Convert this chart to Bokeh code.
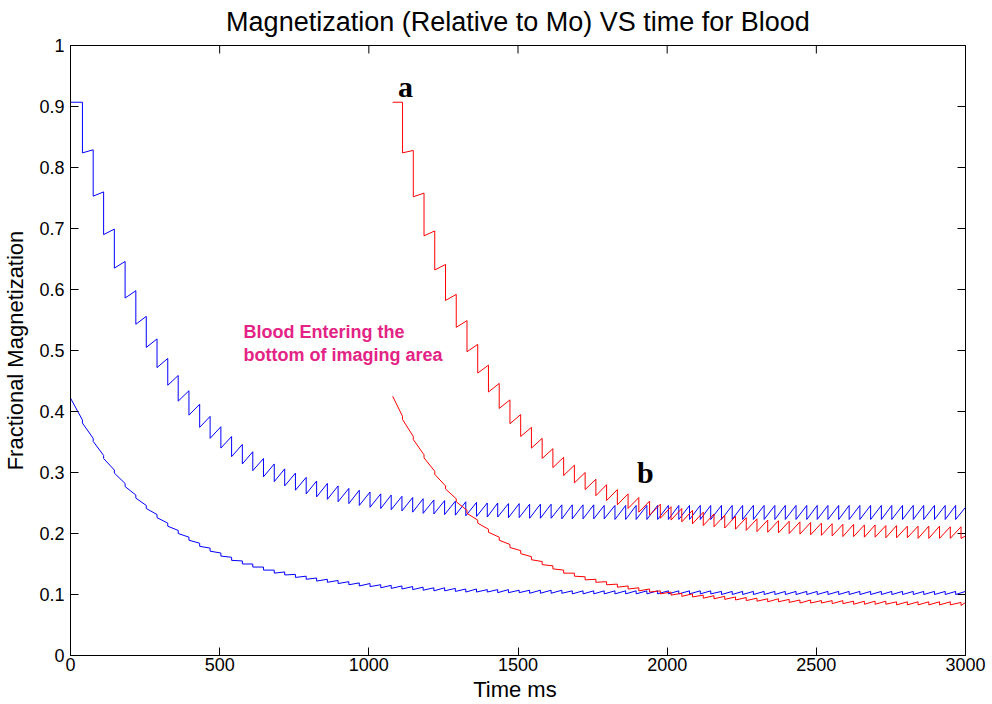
import math
from bokeh.plotting import figure
from bokeh.models import Range1d, FixedTicker, CustomJSTickFormatter, ColumnDataSource, LinearAxis
from bokeh.embed import file_html
from bokeh.resources import INLINE
from bokeh.core.properties import value

# ---------------- data ----------------
x_ticks = [0, 500, 1000, 1500, 2000, 2500, 3000]
y_ticks = [0, 0.1, 0.2, 0.3, 0.4, 0.5, 0.6, 0.7, 0.8, 0.9, 1.0]
x_limits = (0, 3000)
y_limits = (0, 1)

title_text = "Magnetization (Relative to Mo) VS time for Blood"
x_label_text = "Time  ms"
y_label_text = "Fractional Magnetization"

# RF pulse times (ms) for the blood already in the slab (blue) and the later bolus (red)
blue_pulse_t = [40, 76, 111, 147, 183, 219, 254, 290, 326, 361,
                397, 433, 468, 504, 540, 576, 611, 647, 683, 718,
                754, 790, 825, 861, 897, 933, 968, 1004, 1040, 1075,
                1111, 1147, 1182, 1218, 1254, 1290, 1325, 1361, 1397, 1432,
                1468, 1504, 1539, 1575, 1611, 1647, 1682, 1718, 1754, 1789,
                1825, 1861, 1896, 1932, 1968, 2004, 2039, 2075, 2111, 2146,
                2182, 2218, 2253, 2289, 2325, 2361, 2396, 2432, 2468, 2503,
                2539, 2575, 2610, 2646, 2682, 2718, 2753, 2789, 2825, 2860,
                2896, 2932, 2967]

red_pulse_t = [1113, 1149, 1185, 1221, 1257, 1293, 1329, 1365, 1401, 1437,
               1473, 1509, 1545, 1581, 1617, 1653, 1689, 1725, 1761, 1797,
               1833, 1869, 1905, 1941, 1977, 2013, 2049, 2085, 2121, 2157,
               2193, 2229, 2265, 2301, 2337, 2373, 2409, 2445, 2481, 2517,
               2553, 2589, 2625, 2661, 2697, 2733, 2769, 2805, 2841, 2877,
               2913, 2949, 2985]

# upper blue curve: value just before each pulse / just after it
blue_upper_peak = [0.907, 0.829, 0.760, 0.699, 0.646, 0.598, 0.556, 0.519, 0.487, 0.459,
                   0.434, 0.412, 0.392, 0.375, 0.359, 0.346, 0.334, 0.323, 0.314, 0.306,
                   0.299, 0.292, 0.286, 0.282, 0.278, 0.274, 0.271, 0.268, 0.265, 0.263,
                   0.261, 0.259, 0.257, 0.255, 0.254, 0.253, 0.252, 0.251, 0.250, 0.250,
                   0.249, 0.249, 0.248, 0.248, 0.248, 0.247, 0.247, 0.247, 0.247, 0.246,
                   0.246, 0.246, 0.246, 0.246, 0.246, 0.246, 0.246, 0.246, 0.246, 0.246,
                   0.246, 0.246, 0.246, 0.246, 0.246, 0.246, 0.246, 0.246, 0.246, 0.246,
                   0.246, 0.246, 0.246, 0.246, 0.246, 0.246, 0.246, 0.246, 0.246, 0.246,
                   0.246, 0.246, 0.246]
blue_upper_trough = [0.824, 0.753, 0.690, 0.635, 0.586, 0.543, 0.505, 0.472, 0.443, 0.417,
                     0.394, 0.374, 0.356, 0.340, 0.326, 0.314, 0.303, 0.293, 0.285, 0.278,
                     0.271, 0.265, 0.260, 0.256, 0.252, 0.249, 0.246, 0.243, 0.241, 0.239,
                     0.237, 0.235, 0.233, 0.232, 0.231, 0.230, 0.229, 0.228, 0.227, 0.227,
                     0.226, 0.226, 0.225, 0.225, 0.225, 0.224, 0.224, 0.224, 0.224, 0.224,
                     0.223, 0.223, 0.223, 0.223, 0.223, 0.223, 0.223, 0.223, 0.223, 0.223,
                     0.223, 0.223, 0.223, 0.223, 0.223, 0.223, 0.223, 0.223, 0.223, 0.223,
                     0.223, 0.223, 0.223, 0.223, 0.223, 0.223, 0.223, 0.223, 0.223, 0.223,
                     0.223, 0.223, 0.223]

# lower blue curve (blood entering the bottom of the imaging area)
blue_lower_peak = [0.386, 0.356, 0.328, 0.304, 0.282, 0.263, 0.246, 0.231, 0.217, 0.205,
                   0.194, 0.184, 0.176, 0.168, 0.161, 0.155, 0.150, 0.145, 0.140, 0.137,
                   0.133, 0.130, 0.127, 0.125, 0.123, 0.121, 0.119, 0.118, 0.116, 0.115,
                   0.114, 0.113, 0.112, 0.111, 0.111, 0.110, 0.109, 0.109, 0.108, 0.108,
                   0.108, 0.107, 0.107, 0.107, 0.107, 0.107, 0.106, 0.106, 0.106, 0.106,
                   0.106, 0.106, 0.106, 0.106, 0.106, 0.106, 0.106, 0.106, 0.106, 0.106,
                   0.105, 0.105, 0.105, 0.105, 0.105, 0.105, 0.105, 0.105, 0.105, 0.105,
                   0.105, 0.105, 0.105, 0.105, 0.105, 0.105, 0.105, 0.105, 0.105, 0.105,
                   0.105, 0.105, 0.105]
blue_lower_trough = [0.381, 0.351, 0.323, 0.299, 0.277, 0.258, 0.241, 0.226, 0.212, 0.200,
                     0.189, 0.179, 0.171, 0.163, 0.156, 0.150, 0.145, 0.140, 0.135, 0.132,
                     0.128, 0.125, 0.122, 0.120, 0.118, 0.116, 0.114, 0.113, 0.111, 0.110,
                     0.109, 0.108, 0.107, 0.106, 0.106, 0.105, 0.104, 0.104, 0.104, 0.103,
                     0.103, 0.103, 0.102, 0.102, 0.102, 0.102, 0.101, 0.101, 0.101, 0.101,
                     0.101, 0.101, 0.101, 0.101, 0.101, 0.101, 0.101, 0.101, 0.101, 0.101,
                     0.100, 0.100, 0.100, 0.100, 0.100, 0.100, 0.100, 0.100, 0.100, 0.100,
                     0.100, 0.100, 0.100, 0.100, 0.100, 0.100, 0.100, 0.100, 0.100, 0.100,
                     0.100, 0.100, 0.100]

# upper red curve ("a" -> "b")
red_upper_peak = [0.907, 0.828, 0.758, 0.696, 0.641, 0.592, 0.549, 0.510, 0.476, 0.446,
                  0.419, 0.395, 0.374, 0.356, 0.339, 0.325, 0.312, 0.300, 0.289, 0.280,
                  0.272, 0.265, 0.259, 0.253, 0.248, 0.244, 0.241, 0.238, 0.235, 0.232,
                  0.230, 0.228, 0.226, 0.224, 0.222, 0.221, 0.220, 0.219, 0.218, 0.217,
                  0.216, 0.215, 0.215, 0.214, 0.214, 0.213, 0.213, 0.212, 0.212, 0.212,
                  0.212, 0.211, 0.211]
red_upper_trough = [0.824, 0.752, 0.688, 0.632, 0.582, 0.538, 0.498, 0.463, 0.432, 0.405,
                    0.380, 0.359, 0.340, 0.323, 0.308, 0.295, 0.283, 0.272, 0.262, 0.254,
                    0.247, 0.241, 0.235, 0.230, 0.225, 0.222, 0.219, 0.216, 0.213, 0.211,
                    0.209, 0.207, 0.205, 0.203, 0.202, 0.201, 0.200, 0.199, 0.198, 0.197,
                    0.196, 0.195, 0.195, 0.194, 0.194, 0.193, 0.193, 0.193, 0.192, 0.192,
                    0.192, 0.192, 0.192]

# lower red curve
red_lower_peak = [0.392, 0.359, 0.329, 0.302, 0.278, 0.257, 0.238, 0.222, 0.207, 0.194,
                  0.182, 0.172, 0.162, 0.154, 0.147, 0.140, 0.135, 0.129, 0.125, 0.121,
                  0.117, 0.114, 0.111, 0.109, 0.106, 0.104, 0.102, 0.101, 0.099, 0.098,
                  0.097, 0.096, 0.095, 0.094, 0.093, 0.093, 0.092, 0.091, 0.091, 0.090,
                  0.090, 0.090, 0.089, 0.089, 0.089, 0.089, 0.088, 0.088, 0.088, 0.088,
                  0.088, 0.088, 0.087]
red_lower_trough = [0.387, 0.354, 0.324, 0.297, 0.273, 0.252, 0.233, 0.217, 0.202, 0.189,
                    0.177, 0.167, 0.157, 0.149, 0.142, 0.135, 0.130, 0.124, 0.120, 0.116,
                    0.112, 0.109, 0.106, 0.104, 0.101, 0.099, 0.097, 0.096, 0.094, 0.093,
                    0.092, 0.091, 0.090, 0.089, 0.088, 0.088, 0.087, 0.086, 0.086, 0.086,
                    0.085, 0.085, 0.084, 0.084, 0.084, 0.084, 0.083, 0.083, 0.083, 0.083,
                    0.083, 0.083, 0.082]

# start / end of each curve: (time, value)
blue_upper_start, blue_upper_end = (0, 0.907), (3000, 0.243)
blue_lower_start, blue_lower_end = (0, 0.422), (3000, 0.105)
red_upper_start, red_upper_end = (1080, 0.907), (3000, 0.196)
red_lower_start, red_lower_end = (1080, 0.425), (3000, 0.087)

note_text = ["Blood Entering the", "bottom of imaging area"]
note_t = [580, 580]
note_v = [0.531, 0.492]
mark_text = ["a", "b"]
mark_t = [1123, 1927]
mark_v = [0.932, 0.300]

FONT = "Liberation Sans"


def sawtooth(start, times, peaks, troughs, end):
    xs, ys = [start[0]], [start[1]]
    for t, pk, tr in zip(times, peaks, troughs):
        xs += [t, t]
        ys += [pk, tr]
    xs.append(end[0])
    ys.append(end[1])
    return xs, ys


p = figure(width=992, height=704, x_range=Range1d(*x_limits), y_range=Range1d(*y_limits),
           output_backend="svg", toolbar_location=None,
           min_border_left=70, min_border_right=27, min_border_top=45, min_border_bottom=49)
p.background_fill_color = "white"
p.border_fill_color = "white"
p.outline_line_color = "black"
p.outline_line_width = 1
p.xgrid.visible = False
p.ygrid.visible = False

xt = FixedTicker(ticks=x_ticks)
yt = FixedTicker(ticks=y_ticks)
fmt = CustomJSTickFormatter(code="return String(Math.round(tick*10)/10);")

ax = p.xaxis[0]
ax.ticker = xt
ax.axis_label = x_label_text
ay = p.yaxis[0]
ay.ticker = yt
ay.formatter = fmt
ay.axis_label = y_label_text
for a in (ax, ay):
    a.major_tick_in = 8
    a.major_tick_out = 0
    a.minor_tick_line_color = None
    a.axis_line_color = "black"
    a.major_tick_line_color = "black"
    a.major_label_text_font = FONT
    a.major_label_text_font_size = "18px"
    a.major_label_text_color = "black"
    a.axis_label_text_font = FONT
    a.axis_label_text_font_size = "22px"
    a.axis_label_text_font_style = "normal"
    a.axis_label_text_color = "black"
ax.major_label_standoff = 2
ax.axis_label_standoff = 3
ay.major_label_standoff = 6
ay.axis_label_standoff = 8

# title: carried by a tick-less axis above the box
top = LinearAxis(ticker=FixedTicker(ticks=[]), axis_label=title_text,
                 axis_label_text_font=FONT, axis_label_text_font_size="27px",
                 axis_label_text_font_style="normal", axis_label_text_color="black",
                 axis_label_standoff=9, major_tick_out=0, major_tick_in=0,
                 minor_tick_line_color=None, axis_line_color="black")
p.add_layout(top, "above")

# inward tick marks on the top and right edges of the box (clipped to the frame)
p.scatter(x=x_ticks, y=[y_limits[1]] * len(x_ticks), marker="dash", angle=math.pi / 2,
          size=16, line_color="black", line_width=1)
p.scatter(x=[x_limits[1]] * len(y_ticks), y=y_ticks, marker="dash",
          size=16, line_color="black", line_width=1)

for start, times, pk, tr, end, col in [
    (blue_upper_start, blue_pulse_t, blue_upper_peak, blue_upper_trough, blue_upper_end, "#0000FF"),
    (blue_lower_start, blue_pulse_t, blue_lower_peak, blue_lower_trough, blue_lower_end, "#0000FF"),
    (red_upper_start, red_pulse_t, red_upper_peak, red_upper_trough, red_upper_end, "#FF0000"),
    (red_lower_start, red_pulse_t, red_lower_peak, red_lower_trough, red_lower_end, "#FF0000"),
]:
    xs, ys = sawtooth(start, times, pk, tr, end)
    p.line(xs, ys, line_color=col, line_width=1)

note_src = ColumnDataSource(dict(x=note_t, y=note_v, text=note_text))
p.text(x="x", y="y", text="text", source=note_src, text_font=value(FONT),
       text_font_size="18px", text_font_style="bold", text_color="#E42386",
       text_align="left", text_baseline="middle")

mark_src = ColumnDataSource(dict(x=mark_t, y=mark_v, text=mark_text))
p.text(x="x", y="y", text="text", source=mark_src, text_font=value("Liberation Serif"),
       text_font_size="30px", text_font_style="bold", text_color="black",
       text_align="center", text_baseline="middle")

open("out.html", "w").write(file_html(p, INLINE))
